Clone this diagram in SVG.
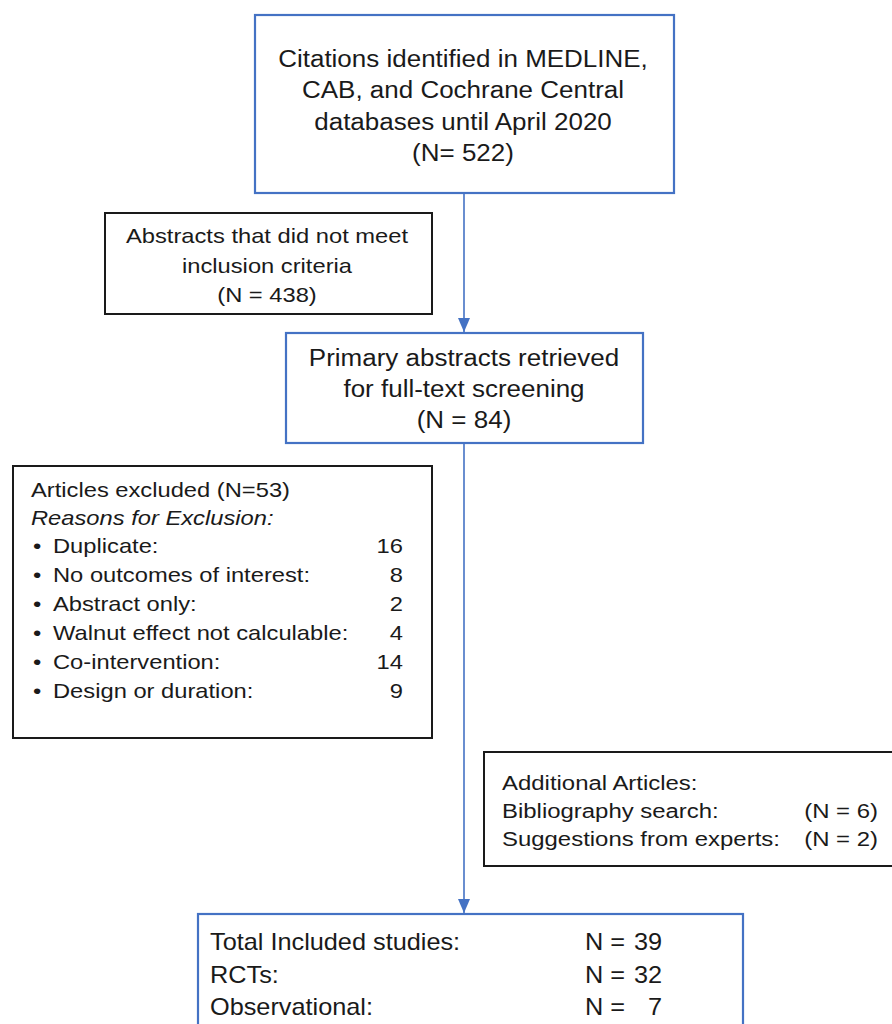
<svg xmlns="http://www.w3.org/2000/svg" width="892" height="1024" viewBox="0 0 892 1024">
<defs>
<style>
text{font-family:"Liberation Sans",Arial,sans-serif;fill:#1a1a1a}
.t22{font-size:23px}
.t20{font-size:21px}
.blue{fill:#fff;stroke:#4472C4;stroke-width:2.2}
.black{fill:#fff;stroke:#1a1a1a;stroke-width:2}
.conn{stroke:#4472C4;stroke-width:1.6;fill:none}
</style>
<marker id="ah" markerWidth="14" markerHeight="12" refX="14" refY="6" orient="auto" markerUnits="userSpaceOnUse">
<path d="M0,0 L14,6 L0,12 Z" fill="#4472C4"/>
</marker>
</defs>
<rect width="892" height="1024" fill="#fff"/>

<g id="connectors">
<line class="conn" x1="464" y1="193" x2="464" y2="332" marker-end="url(#ah)"/>
<line class="conn" x1="464" y1="443" x2="464" y2="913" marker-end="url(#ah)"/>
</g>

<g id="n-citations">
<rect class="blue" x="255" y="15" width="419" height="178"/>
<g class="t22" text-anchor="middle">
<text transform="translate(463,67) scale(1.13,1)">Citations identified in MEDLINE,</text>
<text transform="translate(463,98) scale(1.13,1)">CAB, and Cochrane Central</text>
<text transform="translate(463,130) scale(1.13,1)">databases until April 2020</text>
<text transform="translate(463,161) scale(1.13,1)">(N= 522)</text>
</g>
</g>

<g id="n-abstracts-excluded">
<rect class="black" x="105" y="213" width="327" height="101"/>
<g class="t20" text-anchor="middle">
<text transform="translate(267,243) scale(1.13,1)">Abstracts that did  not meet</text>
<text transform="translate(267,273) scale(1.13,1)">inclusion criteria</text>
<text transform="translate(267,302) scale(1.13,1)">(N = 438)</text>
</g>
</g>

<g id="n-primary">
<rect class="blue" x="286" y="333" width="357" height="110"/>
<g class="t22" text-anchor="middle">
<text transform="translate(464,366) scale(1.13,1)">Primary abstracts retrieved</text>
<text transform="translate(464,397) scale(1.13,1)">for full-text  screening</text>
<text transform="translate(464,428) scale(1.13,1)">(N = 84)</text>
</g>
</g>

<g id="n-articles-excluded">
<rect class="black" x="13" y="466" width="419" height="272"/>
<g class="t20">
<text transform="translate(31,497) scale(1.13,1)">Articles excluded (N=53)</text>
<text transform="translate(31,525) scale(1.13,1)" font-style="italic">Reasons for Exclusion:</text>
<text transform="translate(33,553) scale(1.13,1)">•</text>
<text transform="translate(53,553) scale(1.13,1)">Duplicate:</text>
<text transform="translate(33,582) scale(1.13,1)">•</text>
<text transform="translate(53,582) scale(1.13,1)">No outcomes of interest:</text>
<text transform="translate(33,611) scale(1.13,1)">•</text>
<text transform="translate(53,611) scale(1.13,1)">Abstract only:</text>
<text transform="translate(33,640) scale(1.13,1)">•</text>
<text transform="translate(53,640) scale(1.13,1)">Walnut effect not calculable:</text>
<text transform="translate(33,669) scale(1.13,1)">•</text>
<text transform="translate(53,669) scale(1.13,1)">Co-intervention:</text>
<text transform="translate(33,698) scale(1.13,1)">•</text>
<text transform="translate(53,698) scale(1.13,1)">Design or duration:</text>
</g>
<g class="t20" text-anchor="end">
<text transform="translate(403,553) scale(1.13,1)">16</text>
<text transform="translate(403,582) scale(1.13,1)">8</text>
<text transform="translate(403,611) scale(1.13,1)">2</text>
<text transform="translate(403,640) scale(1.13,1)">4</text>
<text transform="translate(403,669) scale(1.13,1)">14</text>
<text transform="translate(403,698) scale(1.13,1)">9</text>
</g>
</g>

<g id="n-additional">
<rect class="black" x="484" y="752" width="420" height="114"/>
<g class="t20">
<text transform="translate(502,790) scale(1.14,1)">Additional Articles:</text>
<text transform="translate(502,818) scale(1.14,1)">Bibliography search:</text>
<text transform="translate(502,846) scale(1.14,1)">Suggestions from experts:</text>
<text transform="translate(878,818) scale(1.14,1)" text-anchor="end">(N = 6)</text>
<text transform="translate(878,846) scale(1.14,1)" text-anchor="end">(N = 2)</text>
</g>
</g>

<g id="n-included">
<rect class="blue" x="198" y="914" width="545" height="120"/>
<g class="t22">
<text transform="translate(210,950) scale(1.1,1)">Total Included  studies:</text>
<text transform="translate(210,983) scale(1.1,1)">RCTs:</text>
<text transform="translate(210,1015) scale(1.1,1)">Observational:</text>
<text transform="translate(585,950) scale(1.1,1)">N =</text>
<text transform="translate(585,983) scale(1.1,1)">N =</text>
<text transform="translate(585,1015) scale(1.1,1)">N =</text>
</g>
<g class="t22" text-anchor="end">
<text transform="translate(662,950) scale(1.1,1)">39</text>
<text transform="translate(662,983) scale(1.1,1)">32</text>
<text transform="translate(662,1015) scale(1.1,1)">7</text>
</g>
</g>
</svg>
